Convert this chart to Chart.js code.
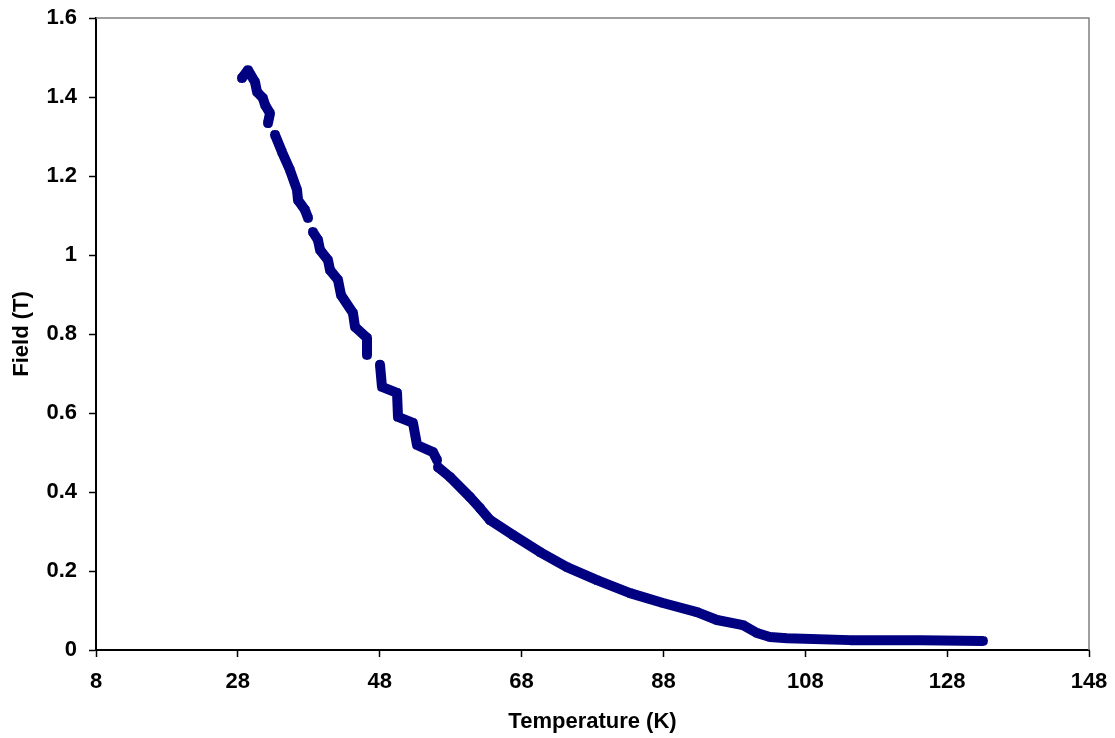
<!DOCTYPE html>
<html>
<head>
<meta charset="utf-8">
<script src="https://cdn.jsdelivr.net/npm/chart.js@4.4.1/dist/chart.umd.min.js"></script>
<style>
html,body{margin:0;padding:0;background:#fff;}
#wrap{width:1115px;height:738px;}
</style>
</head>
<body>
<div id="wrap"><canvas id="c" width="1115" height="738"></canvas></div>
<script>
// Temperature (K) readings; null marks a break in the trace
const temperatures = [28.58, 29.43, 30.42, 30.70, 31.54, 31.83, 32.53, 32.25, null,
  33.24, 34.22, 35.35, 36.34, 36.48, 37.47, 37.89, null,
  38.59, 39.30, 39.58, 40.71, 40.99, 42.12, 42.54, 44.23, 44.52, 46.21, 46.21, null,
  48.04, 48.32, 50.44, 50.58, 52.69, 53.26, 55.51, 56.08, null,
  56.22, 57.91, 60.73, 62.14, 63.55, 66.79, 70.60, 74.40, 78.63, 83.29, 87.94, 92.73,
  95.55, 99.22, 101.19, 103.02, 105.42, 114.3, 124.2, 133.05];
// Field (T) readings
const fields = [1.448, 1.468, 1.438, 1.413, 1.397, 1.380, 1.359, 1.334, null,
  1.304, 1.261, 1.215, 1.165, 1.139, 1.114, 1.094, null,
  1.058, 1.038, 1.013, 0.987, 0.962, 0.937, 0.899, 0.853, 0.818, 0.790, 0.747, null,
  0.722, 0.666, 0.651, 0.590, 0.575, 0.519, 0.501, 0.481, null,
  0.463, 0.438, 0.387, 0.359, 0.329, 0.291, 0.248, 0.210, 0.177, 0.144, 0.119, 0.096,
  0.076, 0.063, 0.043, 0.033, 0.030, 0.025, 0.025, 0.023];
const xTicks = [8, 28, 48, 68, 88, 108, 128, 148];
const yTicks = [0, 0.2, 0.4, 0.6, 0.8, 1, 1.2, 1.4, 1.6];
const xTitle = 'Temperature (K)';
const yTitle = 'Field (T)';

const points = temperatures.map((t, i) => ({x: t, y: fields[i]}));
const NAVY = '#000080';
const FONT = {family: "'Liberation Sans', Arial, sans-serif", size: 22, weight: 'bold'};

const frame = {
  id: 'frame',
  afterDraw(chart) {
    const {ctx, chartArea: a} = chart;
    ctx.save();
    ctx.strokeStyle = '#808080';
    ctx.lineWidth = 1.5;
    ctx.beginPath();
    ctx.moveTo(a.left, a.top);
    ctx.lineTo(a.right, a.top);
    ctx.lineTo(a.right, a.bottom);
    ctx.stroke();
    ctx.restore();
  }
};
function noPad(s) { s.paddingTop = 0; s.paddingBottom = 0; s.paddingLeft = 0; s.paddingRight = 0; }

new Chart(document.getElementById('c'), {
  type: 'scatter',
  data: {
    datasets: [{
      data: points,
      showLine: true,
      spanGaps: false,
      borderColor: NAVY,
      backgroundColor: NAVY,
      borderWidth: 10,
      borderJoinStyle: 'round',
      borderCapStyle: 'round',
      tension: 0,
      pointStyle: 'crossRot',
      pointRadius: 5,
      pointBorderWidth: 3,
      pointBorderColor: NAVY,
      pointHoverRadius: 5
    }]
  },
  options: {
    responsive: false,
    animation: false,
    devicePixelRatio: 1,
    layout: {padding: {top: 18, right: 26, left: 0, bottom: 0}},
    plugins: {legend: {display: false}, tooltip: {enabled: false}},
    scales: {
      x: {
        type: 'linear',
        min: 8, max: 148,
        afterBuildTicks: s => { s.ticks = xTicks.map(v => ({value: v})); },
        afterFit: s => { s.height = 88; noPad(s); },
        grid: {drawOnChartArea: false, drawTicks: true, tickLength: 7, color: '#000', tickColor: '#000', tickWidth: 1.5},
        border: {display: true, color: '#000', width: 2},
        ticks: {color: '#000', font: FONT, padding: 12, maxRotation: 0, autoSkip: false},
        title: {display: true, text: xTitle, color: '#000', font: FONT, padding: {top: 4, bottom: 3}}
      },
      y: {
        type: 'linear',
        min: 0, max: 1.6,
        afterBuildTicks: s => { s.ticks = yTicks.map(v => ({value: v})); },
        afterFit: s => { s.width = 96; noPad(s); },
        grid: {drawOnChartArea: false, drawTicks: true, tickLength: 7, color: '#000', tickColor: '#000', tickWidth: 1.5},
        border: {display: true, color: '#000', width: 2},
        ticks: {color: '#000', font: FONT, padding: 12, autoSkip: false, callback: v => String(+v.toFixed(1))},
        title: {display: true, text: yTitle, color: '#000', font: FONT, padding: {top: 9, bottom: 0}}
      }
    }
  },
  plugins: [frame]
});
</script>
</body>
</html>
